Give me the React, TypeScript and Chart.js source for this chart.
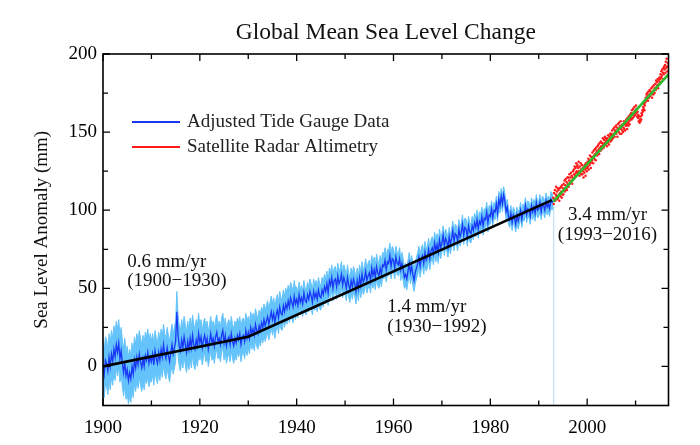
import React, { useEffect, useRef } from 'react';
import { Chart, registerables } from 'chart.js';

Chart.register(...registerables);

const TITLE = 'Global Mean Sea Level Change';
const Y_TITLE = 'Sea Level Anomaly (mm)';
const X_MIN = 1900;
const X_MAX = 2016.8;
const Y_MIN = -25;
const Y_MAX = 200;
const xMajorTicks = [1900, 1920, 1940, 1960, 1980, 2000];
const xMinorTicks = [1910, 1930, 1950, 1970, 1990, 2010];
const yMajorTicks = [0, 50, 100, 150, 200];
const yMinorTicks = [25, 75, 125, 175];

// Adjusted tide gauge data, quarterly samples from 1900.0 (mm)
const tideStartYear = 1900;
const tideSamplesPerYear = 4;
const tideGauge = [
  1, -5, 4, 2, -3, 6, 0, 8, 3, 11, 6, 14, 9, 15, 5, 10, 2, -4, 3, -6,
  -2, -9, -4, -8, 0, -5, 4, -1, 6, 1, 8, 3, -1, 5, 0, 7, 4, 9, 2, 6,
  3, 8, 1, 10, 5, 2, 9, 4, 11, 6, 14, 8, 5, 12, 7, 3, 9, 14, 8, 12,
  16, 35, 20, 13, 10, 17, 12, 19, 14, 9, 16, 11, 18, 12, 20, 14, 11, 17, 13, 21,
  15, 19, 12, 17, 20, 14, 18, 11, 16, 21, 15, 18, 13, 19, 22, 16, 18, 14, 20, 23,
  15, 20, 13, 17, 19, 14, 21, 16, 13, 18, 15, 20, 17, 21, 14, 19, 20, 16, 23, 18,
  22, 18, 25, 21, 24, 20, 27, 23, 21, 26, 23, 28, 25, 30, 26, 29, 32, 27, 31, 35,
  30, 34, 28, 33, 36, 31, 38, 34, 33, 39, 35, 40, 37, 42, 38, 44, 41, 38, 45, 40,
  43, 39, 46, 41, 44, 40, 47, 42, 41, 46, 43, 48, 45, 41, 48, 44, 47, 43, 49, 45,
  44, 49, 46, 51, 48, 53, 47, 55, 52, 57, 50, 55, 56, 51, 58, 53, 55, 59, 52, 57,
  54, 50, 57, 52, 49, 55, 51, 56, 53, 48, 55, 50, 57, 52, 59, 54, 56, 61, 55, 58,
  60, 55, 63, 58, 62, 57, 64, 60, 58, 63, 59, 65, 64, 68, 62, 67, 66, 71, 64, 69,
  68, 63, 70, 66, 65, 69, 62, 66, 62, 57, 59, 56, 61, 66, 60, 64, 59, 55, 60, 63,
  66, 70, 64, 69, 71, 66, 73, 68, 70, 75, 69, 74, 76, 72, 79, 74, 78, 73, 81, 76,
  79, 84, 77, 82, 80, 76, 83, 78, 82, 87, 80, 85, 84, 80, 88, 83, 86, 91, 84, 89,
  88, 83, 90, 86, 85, 90, 87, 92, 89, 94, 88, 93, 91, 96, 90, 95, 94, 99, 92, 97,
  96, 101, 95, 100, 99, 104, 98, 107, 103, 109, 104, 110, 106, 99, 102, 96, 94, 98, 92, 97,
  95, 91, 97, 93, 96, 100, 94, 99, 98, 103, 97, 101, 100, 96, 103, 99, 102, 98, 105, 100,
  101, 105, 99, 104, 103, 100, 106, 102, 104, 101, 107, 105, 106,
];
// half-width of the uncertainty band for each decade (mm)
const tideUncertaintyByDecade = [15, 13, 11, 10, 8, 8, 7, 6, 5, 5];

// Satellite radar altimetry, monthly samples from 1993.0 (mm)
const satStartYear = 1993;
const satSamplesPerYear = 12;
const satellite = [
  108, 104, 111, 107, 113, 106, 110, 115, 109, 112, 107, 114,
  108, 113, 110, 106, 114, 111, 109, 115, 112, 108, 116, 110,
  114, 110, 117, 113, 119, 112, 116, 120, 114, 118, 113, 121,
  117, 121, 115, 119, 123, 117, 121, 118, 124, 119, 122, 117,
  121, 125, 120, 126, 123, 128, 122, 127, 124, 130, 125, 128,
  129, 124, 127, 131, 125, 122, 128, 124, 130, 126, 123, 129,
  123, 127, 125, 121, 128, 124, 129, 126, 122, 130, 127, 125,
  127, 131, 128, 133, 126, 132, 129, 135, 130, 127, 134, 131,
  132, 137, 134, 130, 138, 135, 133, 139, 136, 132, 140, 137,
  138, 135, 141, 137, 142, 139, 136, 143, 140, 138, 144, 141,
  139, 143, 141, 146, 142, 140, 145, 143, 147, 142, 146, 144,
  145, 141, 146, 143, 148, 144, 142, 147, 145, 149, 144, 148,
  149, 145, 151, 148, 146, 152, 149, 153, 147, 151, 150, 154,
  149, 153, 151, 147, 155, 152, 150, 156, 153, 149, 154, 157,
  152, 149, 154, 151, 155, 150, 153, 157, 152, 155, 151, 156,
  154, 158, 155, 152, 159, 156, 154, 160, 157, 155, 161, 158,
  159, 162, 158, 164, 161, 159, 165, 162, 160, 166, 163, 161,
  164, 167, 162, 165, 160, 163, 159, 161, 157, 160, 156, 158,
  157, 160, 158, 162, 161, 164, 163, 166, 165, 168, 164, 167,
  169, 172, 170, 174, 171, 175, 173, 170, 176, 172, 174, 177,
  173, 176, 174, 178, 175, 172, 179, 176, 174, 180, 177, 175,
  178, 181, 177, 183, 179, 182, 180, 184, 178, 183, 181, 185,
  184, 182, 187, 185, 189, 186, 190, 184, 188, 191, 187, 192,
  190, 193, 188, 195, 191, 197, 192, 189, 194,
];

// fitted trend lines
const tideTrendYears = [1900, 1930, 1992.7];
const tideTrendValues = [0, 19, 106.5];
const satTrendYears = [1993, 2016.8];
const satTrendValues = [105.5, 187];

// faint vertical line at the end of the tide gauge record
const gapLineYears = [1993.1, 1993.1];
const gapLineValues = [-25, 105];

const legendLabels = ['Adjusted Tide Gauge Data', 'Satellite Radar Altimetry'];

const annotationTexts = ['0.6 mm/yr', '(1900\u22121930)', '1.4 mm/yr', '(1930\u22121992)', '3.4 mm/yr', '(1993\u22122016)'];
const annotationYears = [1905, 1905, 1958.7, 1958.7, 2004.2, 2004.2];
const annotationValues = [67, 54.5, 38, 25, 97, 84.2];
const annotationAligns = ['left', 'left', 'left', 'left', 'center', 'center'];

const FONT = "'Liberation Serif', 'Times New Roman', Times, serif";
const DARK_BLUE = 'rgb(25, 55, 245)';
const LIGHT_BLUE = 'rgb(100, 195, 250)';
const RED = 'rgb(255, 25, 25)';
const GREEN = 'rgb(45, 185, 45)';

const decorPlugin = {
  id: 'decor',
  afterDatasetsDraw(chart: any) {
    const { ctx, chartArea: a, scales } = chart;
    const x = scales.x;
    const y = scales.y;
    ctx.save();
    // frame
    ctx.strokeStyle = '#000';
    ctx.lineWidth = 1.6;
    ctx.strokeRect(a.left, a.top, a.right - a.left, a.bottom - a.top);
    // inward ticks on all four sides
    ctx.lineWidth = 1.3;
    const xt = (vals: number[], len: number) => {
      vals.forEach((v) => {
        const px = x.getPixelForValue(v);
        ctx.beginPath();
        ctx.moveTo(px, a.bottom);
        ctx.lineTo(px, a.bottom - len);
        ctx.moveTo(px, a.top);
        ctx.lineTo(px, a.top + len);
        ctx.stroke();
      });
    };
    const yt = (vals: number[], len: number) => {
      vals.forEach((v) => {
        const py = y.getPixelForValue(v);
        ctx.beginPath();
        ctx.moveTo(a.left, py);
        ctx.lineTo(a.left + len, py);
        ctx.moveTo(a.right, py);
        ctx.lineTo(a.right - len, py);
        ctx.stroke();
      });
    };
    xt(xMajorTicks, 7);
    xt(xMinorTicks, 5);
    yt(yMajorTicks, 7);
    yt(yMinorTicks, 5);

    // legend
    ctx.font = `19px ${FONT}`;
    ctx.textBaseline = 'middle';
    ctx.textAlign = 'left';
    const legendColors = [DARK_BLUE, RED];
    legendLabels.forEach((label, i) => {
      const ly = a.top + 68 + i * 25;
      ctx.strokeStyle = legendColors[i];
      ctx.lineWidth = 2;
      ctx.beginPath();
      ctx.moveTo(a.left + 29, ly);
      ctx.lineTo(a.left + 77, ly);
      ctx.stroke();
      ctx.fillStyle = '#222';
      ctx.fillText(label, a.left + 84, ly);
    });

    // annotations
    ctx.fillStyle = '#111';
    annotationTexts.forEach((t, i) => {
      ctx.textAlign = annotationAligns[i] as CanvasTextAlign;
      ctx.fillText(t, x.getPixelForValue(annotationYears[i]), y.getPixelForValue(annotationValues[i]));
    });
    ctx.restore();
  },
};

export default function App() {
  const ref = useRef<HTMLCanvasElement>(null);
  useEffect(() => {
    if (!ref.current) return;
    const tx = (i: number) => tideStartYear + i / tideSamplesPerYear;
    const errAt = (i: number) =>
      tideUncertaintyByDecade[Math.min(tideUncertaintyByDecade.length - 1, Math.floor(i / (10 * tideSamplesPerYear)))];
    const tidePts = tideGauge.map((v, i) => ({ x: tx(i), y: v }));
    const upperPts = tideGauge.map((v, i) => ({ x: tx(i), y: v + errAt(i) }));
    const lowerPts = tideGauge.map((v, i) => ({ x: tx(i), y: v - errAt(i) }));
    const satPts = satellite.map((v, i) => ({ x: satStartYear + i / satSamplesPerYear, y: v }));
    const tideTrend = tideTrendYears.map((yr, i) => ({ x: yr, y: tideTrendValues[i] }));
    const satTrend = satTrendYears.map((yr, i) => ({ x: yr, y: satTrendValues[i] }));
    const gapLine = gapLineYears.map((yr, i) => ({ x: yr, y: gapLineValues[i] }));

    const chart = new Chart(ref.current, {
      type: 'line',
      data: {
        datasets: [
          { label: 'sat trend', data: satTrend, borderColor: GREEN, borderWidth: 2.6, pointRadius: 0, fill: false },
          {
            label: legendLabels[1],
            data: satPts,
            showLine: false,
            pointRadius: 1.25,
            pointBorderWidth: 0,
            pointBackgroundColor: RED,
            borderColor: RED,
          },
          { label: 'tide trend', data: tideTrend, borderColor: '#000', borderWidth: 2.6, pointRadius: 0, fill: false },
          { label: legendLabels[0], data: tidePts, borderColor: DARK_BLUE, borderWidth: 1.3, pointRadius: 0, fill: false },
          { label: 'upper', data: upperPts, borderColor: LIGHT_BLUE, borderWidth: 1, pointRadius: 0, fill: false },
          {
            label: 'lower',
            data: lowerPts,
            borderColor: LIGHT_BLUE,
            borderWidth: 1,
            pointRadius: 0,
            fill: '-1',
            backgroundColor: LIGHT_BLUE,
          },
          { label: 'gap', data: gapLine, borderColor: 'rgba(160, 215, 250, 0.9)', borderWidth: 1, pointRadius: 0, fill: false },
        ],
      },
      options: {
        responsive: false,
        animation: false,
        devicePixelRatio: 1,
        layout: { padding: { left: 0, right: 31.5, top: 0, bottom: 0 } },
        plugins: {
          legend: { display: false },
          tooltip: { enabled: false },
          title: {
            display: true,
            text: TITLE,
            fullSize: false,
            color: '#111',
            font: { family: FONT, size: 23.5, weight: 'normal', lineHeight: 1 },
            padding: { top: 21.25, bottom: 9.25 },
          },
        },
        scales: {
          x: {
            type: 'linear',
            min: X_MIN,
            max: X_MAX,
            afterBuildTicks: (s: any) => {
              s.ticks = xMajorTicks.map((v) => ({ value: v }));
            },
            afterFit: (s: any) => {
              s.height = 39.5;
            },
            ticks: {
              color: '#000',
              font: { family: FONT, size: 19 },
              padding: 11,
              maxRotation: 0,
              autoSkip: false,
              callback: (v: any) => String(v),
            },
            grid: { display: false, drawTicks: false },
            border: { display: false },
          },
          y: {
            type: 'linear',
            min: Y_MIN,
            max: Y_MAX,
            afterBuildTicks: (s: any) => {
              s.ticks = yMajorTicks.map((v) => ({ value: v }));
            },
            afterFit: (s: any) => {
              s.width = 103;
            },
            ticks: {
              color: '#000',
              font: { family: FONT, size: 19 },
              padding: 6,
              autoSkip: false,
              callback: (v: any) => String(v),
            },
            grid: { display: false, drawTicks: false },
            border: { display: false },
            title: {
              display: true,
              text: Y_TITLE,
              color: '#111',
              font: { family: FONT, size: 19 },
              padding: { top: 31, bottom: 0 },
            },
          },
        },
      },
      plugins: [decorPlugin],
    } as any);
    return () => chart.destroy();
  }, []);

  return (
    <div style={{ position: 'absolute', left: 0, top: 0, width: 700, height: 445, background: '#fff' }}>
      <canvas ref={ref} width={700} height={445} style={{ display: 'block' }} />
    </div>
  );
}
